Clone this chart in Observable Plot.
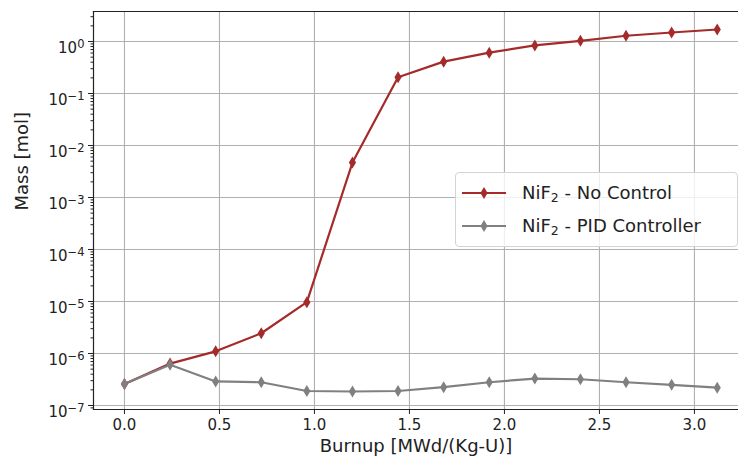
<!DOCTYPE html>
<html><head><meta charset="utf-8">
<script src="https://cdn.jsdelivr.net/npm/d3@7"></script>
<script src="https://cdn.jsdelivr.net/npm/@observablehq/plot@0.6"></script>
<style>
body{margin:0;background:#fff;font-family:"DejaVu Sans",sans-serif;}
#wrap{position:relative;width:738px;height:466px;overflow:hidden;}
.legend{position:absolute;left:455px;top:172px;width:283px;height:75px;box-sizing:border-box;border:1px solid #d4d4d4;border-radius:4px;background:rgba(255,255,255,0.8);}
.row{position:absolute;left:0;height:30px;width:100%;}
.row svg{position:absolute;left:5px;top:0;}
.row span{position:absolute;left:66px;top:3px;font-size:18px;color:#222;white-space:nowrap;line-height:24px;}
.row sub{font-size:12.5px;vertical-align:-3px;line-height:0;}
</style></head><body><div id="wrap"></div><script>
const burnup = [0, 0.24, 0.48, 0.72, 0.96, 1.20, 1.44, 1.68, 1.92, 2.16, 2.40, 2.64, 2.88, 3.12];
const noControl = [2.6e-7, 6.4e-7, 1.1e-6, 2.45e-6, 9.7e-6, 4.7e-3, 0.206, 0.41, 0.61, 0.84, 1.03, 1.29, 1.49, 1.70];
const pidController = [2.6e-7, 6.1e-7, 2.9e-7, 2.8e-7, 1.9e-7, 1.86e-7, 1.9e-7, 2.25e-7, 2.8e-7, 3.3e-7, 3.2e-7, 2.8e-7, 2.5e-7, 2.2e-7];
const seriesNames = ["No Control", "PID Controller"];
const seriesColors = ["#a52a2a", "#808080"];
const xTicks = [0, 0.5, 1.0, 1.5, 2.0, 2.5, 3.0];
const yTicks = [1e-7, 1e-6, 1e-5, 1e-4, 1e-3, 1e-2, 1e-1, 1];
const yTickExponents = ["−7", "−6", "−5", "−4", "−3", "−2", "−1", "0"];
const xLabel = "Burnup [MWd/(Kg-U)]";
const yLabel = "Mass [mol]";

const rows = [];
burnup.forEach((b, i) => {
  rows.push({burnup: b, mass: noControl[i], series: seriesNames[0]});
});
burnup.forEach((b, i) => {
  rows.push({burnup: b, mass: pidController[i], series: seriesNames[1]});
});

const thinDiamond = {
  draw(ctx, size) {
    const hh = Math.sqrt(size / Math.PI) * 1.5;
    const hw = hh * 0.6;
    ctx.moveTo(0, -hh); ctx.lineTo(hw, 0); ctx.lineTo(0, hh); ctx.lineTo(-hw, 0); ctx.closePath();
  }
};

const chart = Plot.plot({
  width: 738, height: 466,
  marginLeft: 93, marginRight: 0, marginTop: 11, marginBottom: 57,
  style: {fontFamily: "DejaVu Sans, sans-serif", fontSize: "15px", color: "#222", background: "transparent"},
  x: {domain: [-0.163, 3.232]},
  y: {type: "log", domain: [Math.pow(10, -7.077), Math.pow(10, 0.577)]},
  color: {domain: seriesNames, range: seriesColors},
  marks: [
    Plot.gridY(yTicks, {stroke: "#b0b0b0", strokeOpacity: 1, strokeWidth: 1.1}),
    Plot.gridX(xTicks, {stroke: "#b0b0b0", strokeOpacity: 1, strokeWidth: 1.1}),
    Plot.axisY({ticks: 80, tickSize: 2.5, tickFormat: () => "", label: null, stroke: "#222"}),
    Plot.axisY({ticks: yTicks, tickSize: 5, tickPadding: 4, label: null, tickFormat: d => "10^" + yTickExponents[yTicks.indexOf(d)], stroke: "#222", fontSize: 15}),
    Plot.axisX({ticks: xTicks, tickSize: 5, tickPadding: 5, tickFormat: d3.format(".1f"), label: null, stroke: "#222", fontSize: 15}),
    Plot.frame({anchor: "left", stroke: "#222", strokeWidth: 1.2}),
    Plot.frame({anchor: "top", stroke: "#222", strokeWidth: 1.2}),
    Plot.frame({anchor: "bottom", stroke: "#222", strokeWidth: 1.2}),
    Plot.line(rows, {x: "burnup", y: "mass", z: "series", stroke: "series", strokeWidth: 2.2}),
    Plot.dot(rows, {x: "burnup", y: "mass", fill: "series", symbol: thinDiamond, r: 4}),
    Plot.text([xLabel], {text: d => d, frameAnchor: "bottom", dy: 42, fontSize: 18, fill: "#222"}),
    Plot.text([yLabel], {text: d => d, frameAnchor: "left", dx: -71, rotate: -90, fontSize: 18, fill: "#222"})
  ]
});
// render "10^n" labels as base with raised exponent
chart.querySelectorAll("text").forEach(t => {
  const s = t.textContent;
  if (s.startsWith("10^")) {
    const exp = s.slice(3);
    t.textContent = "10";
    const ts = document.createElementNS("http://www.w3.org/2000/svg", "tspan");
    ts.setAttribute("dy", "-0.45em");
    ts.setAttribute("font-size", "11.5px");
    ts.textContent = exp;
    t.appendChild(ts);
    t.setAttribute("dy", "0.45em");
  }
});
const wrap = document.getElementById("wrap");
wrap.appendChild(chart);

const legend = document.createElement("div");
legend.className = "legend";
seriesNames.forEach((name, i) => {
  const row = document.createElement("div");
  row.className = "row";
  row.style.top = (i === 0 ? 5 : 38) + "px";
  const c = seriesColors[i];
  row.innerHTML = `<svg width="46" height="30"><line x1="1" y1="15" x2="45" y2="15" stroke="${c}" stroke-width="2.2"/><path d="M23,9 L26.6,15 L23,21 L19.4,15 Z" fill="${c}"/></svg><span>NiF<sub>2</sub> - ${name}</span>`;
  legend.appendChild(row);
});
wrap.appendChild(legend);
</script></body></html>
